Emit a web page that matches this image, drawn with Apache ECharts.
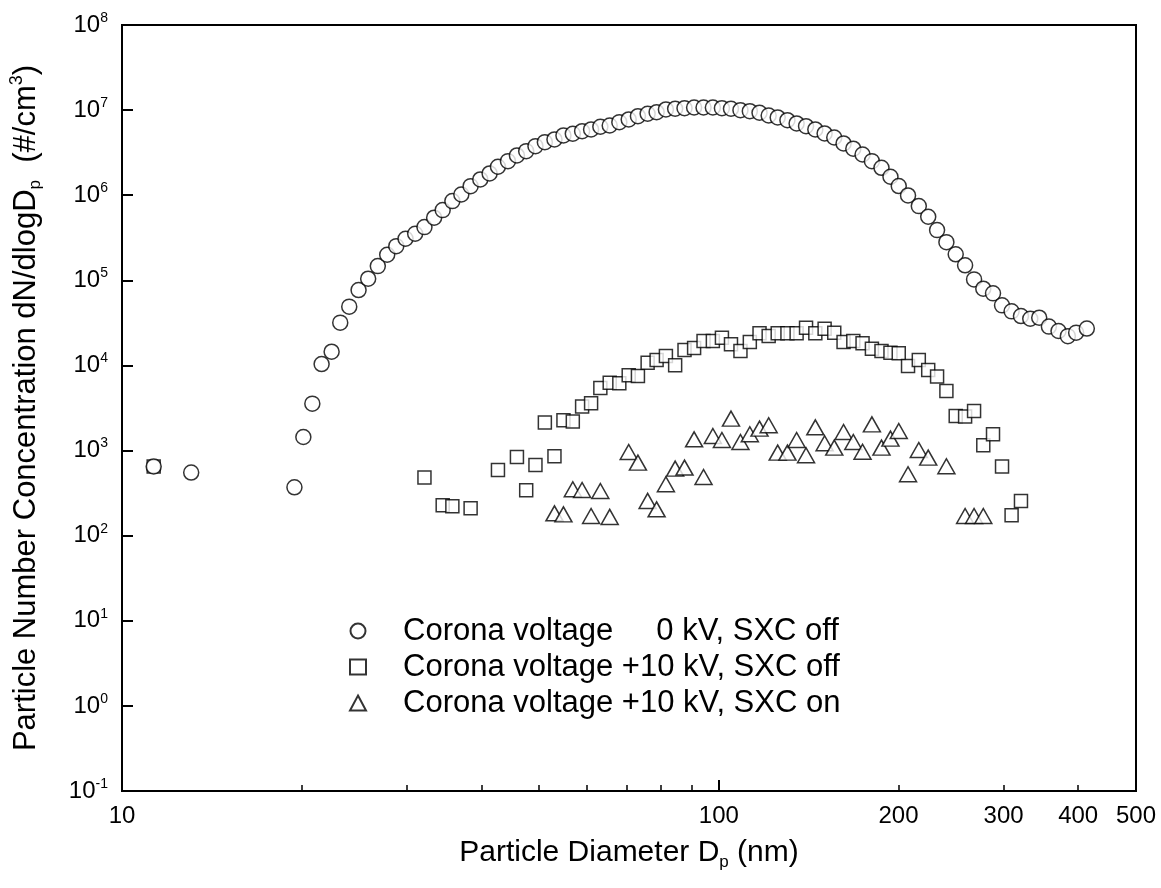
<!DOCTYPE html>
<html><head><meta charset="utf-8">
<script src="https://cdn.jsdelivr.net/npm/echarts@6/dist/echarts.min.js"></script>
<style>html,body{margin:0;padding:0;background:#fff}#c{width:1161px;height:888px}</style>
</head><body><div id="c"></div>
<script>
// ---- data (particle diameter nm, dN/dlogDp #/cm3) ----
const offD = [11.3,13.06,19.45,20.13,20.84,21.6,22.45,23.21,24.03,24.91,25.85,26.83,27.82,28.81,29.86,30.99,32.12,33.34,34.46,35.77,37.03,38.38,39.84,41.3,42.65,44.33,45.89,47.56,49.29,51.11,53.04,54.91,56.93,59.01,61.09,63.31,65.64,68.12,70.63,73.19,75.98,78.66,81.53,84.49,87.6,90.9,94.27,97.72,101.2,104.8,108.7,112.7,117.0,121.2,125.5,130.3,135.0,140.0,145.1,150.4,156.1,161.8,168.0,174.1,180.5,187.3,193.9,200.2,207.5,216.3,224.3,232.1,240.6,249.4,258.6,267.7,277.4,288.0,298.2,309.4,320.8,332.5,344.2,357.3,370.8,384.4,396.9,413.6];
const offN = [649,551,370,1442,3559,10380,14520,31840,49090,76900,104500,146900,200000,252300,308300,353000,421900,544500,668300,852800,1.02e6,1.279e6,1.534e6,1.803e6,2.161e6,2.515e6,2.934e6,3.296e6,3.773e6,4.204e6,4.521e6,5.039e6,5.275e6,5.659e6,5.926e6,6.375e6,6.601e6,7.221e6,7.767e6,8.489e6,9.06e6,9.46e6,1.018e7,1.037e7,1.054e7,1.074e7,1.074e7,1.074e7,1.054e7,1.037e7,9.99e6,9.72e6,9.31e6,8.65e6,8.2e6,7.62e6,6.97e6,6.48e6,5.93e6,5.32e6,4.77e6,4.06e6,3.52e6,3.01e6,2.515e6,2.1e6,1.65e6,1.28e6,9.95e5,7.45e5,5.59e5,3.89e5,2.81e5,2.02e5,1.5e5,1.026e5,7.98e4,7.03e4,5.08e4,4.32e4,3.8e4,3.54e4,3.64e4,2.86e4,2.54e4,2.21e4,2.43e4,2.71e4];

const kvD = [11.3,32.12,34.46,35.77,38.38,42.65,45.89,47.56,49.29,51.11,53.04,54.91,56.93,59.01,61.09,63.31,65.64,68.12,70.63,73.19,75.98,78.66,81.53,84.49,87.6,90.9,94.27,97.72,101.2,104.8,108.7,112.7,117,121.2,125.5,130.3,135,140,145.1,150.4,156.1,161.8,168,174.1,180.5,187.3,193.9,200.2,207.5,216.3,224.3,232.1,240.6,249.4,258.6,267.7,277.4,288,298.2,309.4,320.8];
const kvN = [649,481,228,221,210,591,840,341,676,2130,856,2265,2188,3283,3589,5430,6280,6166,7650,7510,10790,11570,12890,10030,15170,16000,19350,19350,21220,17700,14760,18830,23830,22150,23830,23830,23830,27800,23830,27040,24270,18830,19350,18190,15740,14760,14140,13870,9840,11570,8830,7390,5003,2546,2510,2914,1153,1552,648,174,256];

const sxcD = [53.04,54.91,56.93,59.01,61.09,63.31,65.64,70.63,73.19,75.98,78.66,81.53,84.49,87.6,90.9,94.27,97.72,101.2,104.8,108.7,112.7,117,121.2,125.5,130.3,135,140,145.1,150.4,156.1,161.8,168,174.1,180.5,187.3,193.9,200.2,207.5,216.3,224.3,240.6,258.6,267.7,277.4];
const sxcN = [183,178,351,344,170,335,166,961,722,256,204,402,614,631,1355,489,1482,1330,2372,1260,1552,1811,1981,946,946,1330,880,1875,1217,1083,1652,1260,967,2033,1083,1381,1698,526,1015,826,653,170,170,170];

const seriesNames = ['Corona voltage     0 kV, SXC off','Corona voltage +10 kV, SXC off','Corona voltage +10 kV, SXC on'];
const xLabelTicks = [10,100,200,300,400,500];
const xMinorTicks = [20,30,40,50,60,70,80,90,200,300,400];

const FONT = 'Liberation Sans, Arial, Helvetica, sans-serif';
const pair = (d, n) => d.map((v, i) => [v, n[i]]);
const mstyle = {color:'#fff', borderColor:'#000', borderWidth:1.5};

const chart = echarts.init(document.getElementById('c'), null, {renderer:'canvas'});
chart.setOption({
  animation:false,
  backgroundColor:'#fff',
  textStyle:{fontFamily:FONT, color:'#000'},
  grid:{left:120, right:25, top:25, bottom:97, show:true, borderColor:'#000', borderWidth:2, backgroundColor:'transparent'},
  legend:{
    orient:'vertical', left:349, top:613, padding:0, itemGap:0,
    itemWidth:16, itemHeight:15,
    data:seriesNames,
    textStyle:{fontSize:31, fontFamily:FONT, color:'#000', lineHeight:36, padding:[0,0,0,32]}
  },
  xAxis:[{
    type:'log', logBase:10, min:10, max:500, position:'bottom',
    axisLine:{show:true, lineStyle:{color:'#000', width:2}},
    axisTick:{show:true, inside:true, length:11, lineStyle:{color:'#000', width:2}},
    axisLabel:{show:false},
    splitLine:{show:false},
    name:'{a|Particle Diameter D}{sub|p}{a| (nm)}',
    nameLocation:'middle', nameGap:44,
    nameTextStyle:{rich:{
      a:{fontSize:30, fontFamily:FONT, color:'#000', lineHeight:36},
      sub:{fontSize:17, fontFamily:FONT, color:'#000', verticalAlign:'bottom', lineHeight:14}
    }}
  },{
    type:'value', min:1, max:Math.log10(500), position:'bottom',
    axisLine:{show:false},
    axisTick:{show:true, inside:true, length:6, lineStyle:{color:'#000', width:1.5},
      customValues:xMinorTicks.map(v=>Math.log10(v))},
    axisLabel:{show:true, fontSize:24, fontFamily:FONT, color:'#000', margin:13,
      customValues:xLabelTicks.map(v=>Math.log10(v)),
      formatter:v=>String(Math.round(Math.pow(10, v)))},
    splitLine:{show:false}
  }],
  yAxis:{
    type:'log', logBase:10, min:0.1, max:1e8,
    axisLine:{show:true, lineStyle:{color:'#000', width:2}},
    axisTick:{show:true, inside:true, length:11, lineStyle:{color:'#000', width:2}},
    splitLine:{show:false},
    axisLabel:{margin:14, formatter:v=>'{b|10}{s|'+Math.round(Math.log10(v))+'}',
      rich:{
        b:{fontSize:24, fontFamily:FONT, color:'#000', lineHeight:28},
        s:{fontSize:14, fontFamily:FONT, color:'#000', verticalAlign:'top', lineHeight:12}
      }},
    name:'{a|Particle Number Concentration dN/dlogD}{sub|p}{a|  (#/cm}{sup|3}{a|)}',
    nameLocation:'middle', nameGap:78, nameRotate:90,
    nameTextStyle:{rich:{
      a:{fontSize:31, fontFamily:FONT, color:'#000', lineHeight:36},
      sub:{fontSize:17, fontFamily:FONT, color:'#000', verticalAlign:'bottom', lineHeight:14},
      sup:{fontSize:18, fontFamily:FONT, color:'#000', verticalAlign:'top', lineHeight:14}
    }}
  },
  series:[
    {name:seriesNames[1], type:'scatter', xAxisIndex:0, symbol:'rect', symbolSize:13, itemStyle:mstyle, data:pair(kvD, kvN), z:2},
    {name:seriesNames[2], type:'scatter', xAxisIndex:0, symbol:'triangle', symbolSize:[17,15], itemStyle:mstyle, data:pair(sxcD, sxcN), z:2},
    {name:seriesNames[0], type:'scatter', xAxisIndex:0, symbol:'circle', symbolSize:15, itemStyle:mstyle, data:pair(offD, offN), z:3}
  ]
});
</script></body></html>
